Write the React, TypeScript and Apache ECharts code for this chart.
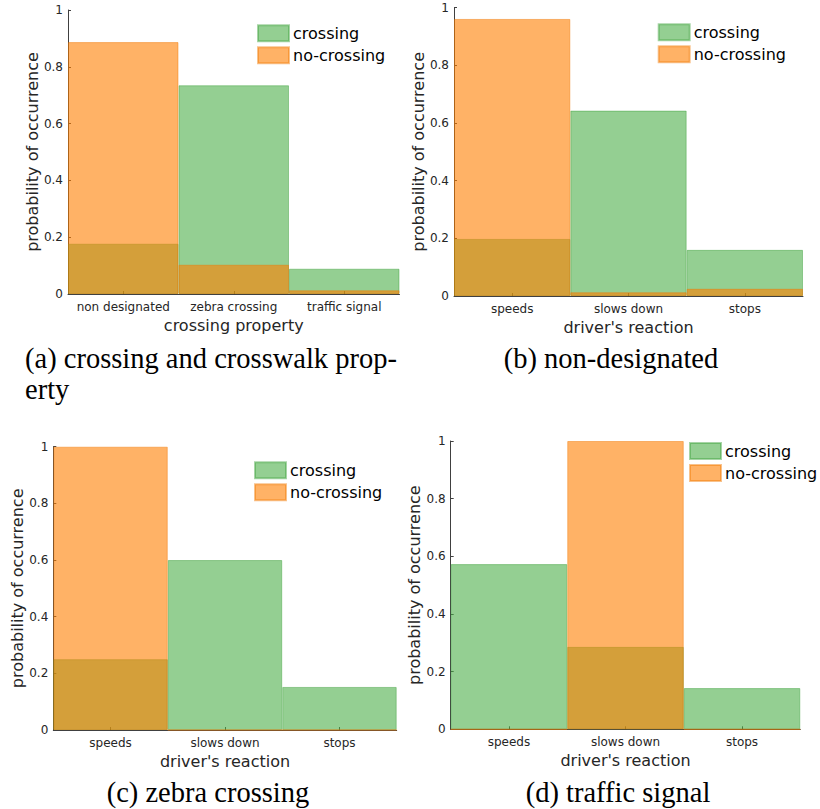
import React, { useEffect, useRef } from "react";
import * as echarts from "echarts";

const propertyCategories = ["non designated", "zebra crossing", "traffic signal"];
const reactionCategories = ["speeds", "slows down", "stops"];
const yTicks = [0, 0.2, 0.4, 0.6, 0.8, 1];

const crossingA = [0.177, 0.735, 0.089];
const noCrossingA = [0.887, 0.103, 0.013];
const crossingB = [0.198, 0.643, 0.16];
const noCrossingB = [0.961, 0.013, 0.025];
const crossingC = [0.25, 0.6, 0.152];
const noCrossingC = [1.0, 0, 0];
const crossingD = [0.573, 0.286, 0.143];
const noCrossingD = [0, 1.0, 0];

const seriesNames = ["crossing", "no-crossing"];
const xAxisNames = ["crossing property", "driver's reaction", "driver's reaction", "driver's reaction"];
const yAxisName = "probability of occurrence";
const captions = [
  "(a) crossing and crosswalk prop-",
  "erty",
  "(b) non-designated",
  "(c) zebra crossing",
  "(d) traffic signal",
];

const SANS = "DejaVu Sans";
const SERIF = "Liberation Serif";
const GREEN = "rgba(77,175,74,0.6)";
const GREEN_EDGE = "rgba(60,160,58,0.45)";
const ORANGE = "rgba(255,127,0,0.6)";
const ORANGE_EDGE = "rgba(240,120,0,0.45)";
const AXIS = "#404040";
const TEXT = "#262626";

export default function App() {
  const ref = useRef<HTMLDivElement>(null);
  useEffect(() => {
    if (!ref.current) return;
    const chart = echarts.init(ref.current, null, { renderer: "svg" });

    const grids = [
      { left: 68, top: 10, width: 331.5, height: 284 },
      { left: 454, top: 7.7, width: 349, height: 288.3 },
      { left: 53.3, top: 446.7, width: 343.4, height: 283.3 },
      { left: 450.7, top: 441, width: 349.6, height: 288.3 },
    ];
    const catsList = [propertyCategories, reactionCategories, reactionCategories, reactionCategories];
    const data = [
      [crossingA, noCrossingA],
      [crossingB, noCrossingB],
      [crossingC, noCrossingC],
      [crossingD, noCrossingD],
    ];
    const legendPos = [
      { left: 257, top: 24.3 },
      { left: 657.7, top: 23.3 },
      { left: 254, top: 461.3 },
      { left: 689, top: 442 },
    ];

    const xAxis = grids.map((_, i) => ({
      type: "category",
      gridIndex: i,
      data: catsList[i],
      boundaryGap: true,
      name: xAxisNames[i],
      nameLocation: "middle",
      nameGap: 23,
      nameTextStyle: { fontFamily: SANS, fontSize: 16, color: TEXT },
      axisLine: { show: true, lineStyle: { color: AXIS, width: 1 } },
      axisTick: { show: true, inside: true, alignWithLabel: true, length: 3, lineStyle: { color: AXIS } },
      axisLabel: { fontFamily: SANS, fontSize: 12, color: TEXT, margin: 7, interval: 0, hideOverlap: false },
      splitLine: { show: false },
    }));

    const yAxis = grids.map((_, i) => ({
      type: "value",
      gridIndex: i,
      min: yTicks[0],
      max: yTicks[yTicks.length - 1],
      interval: 0.2,
      name: yAxisName,
      nameLocation: "middle",
      nameGap: 27,
      nameTextStyle: { fontFamily: SANS, fontSize: 16, color: TEXT },
      axisLine: { show: true, lineStyle: { color: AXIS, width: 1 } },
      axisTick: { show: true, inside: true, length: 3, lineStyle: { color: AXIS } },
      axisLabel: { fontFamily: SANS, fontSize: 12, color: TEXT, margin: 5 },
      splitLine: { show: false },
    }));

    const series: any[] = [];
    grids.forEach((_, i) => {
      series.push({
        type: "bar",
        name: seriesNames[0],
        xAxisIndex: i,
        yAxisIndex: i,
        data: data[i][0],
        barWidth: "100%",
        barGap: "-100%",
        barCategoryGap: "0%",
        itemStyle: { color: GREEN, borderColor: GREEN_EDGE, borderWidth: 1 },
      });
      series.push({
        type: "bar",
        name: seriesNames[1],
        xAxisIndex: i,
        yAxisIndex: i,
        data: data[i][1],
        barWidth: "100%",
        barGap: "-100%",
        barCategoryGap: "0%",
        itemStyle: { color: ORANGE, borderColor: ORANGE_EDGE, borderWidth: 1 },
      });
    });

    const legend = legendPos.map((p) => ({
      data: seriesNames,
      orient: "vertical",
      left: p.left,
      top: p.top,
      padding: 0,
      itemWidth: 31,
      itemHeight: 16,
      itemGap: 4,
      icon: "rect",
      selectedMode: false,
      textStyle: { fontFamily: SANS, fontSize: 16, color: "#000", lineHeight: 16, padding: [0, 0, 0, -1] },
    }));

    const capStyle = { fontFamily: SERIF, fontSize: 28.5, fill: "#000" };
    const graphic = [
      { type: "text", left: 25, top: 344, style: { ...capStyle, text: captions[0] } },
      { type: "text", left: 25, top: 375, style: { ...capStyle, text: captions[1] } },
      { type: "text", x: 611, y: 358, style: { ...capStyle, text: captions[2], align: "center", verticalAlign: "middle" } },
      { type: "text", x: 208, y: 792, style: { ...capStyle, text: captions[3], align: "center", verticalAlign: "middle" } },
      { type: "text", x: 618, y: 792, style: { ...capStyle, text: captions[4], align: "center", verticalAlign: "middle" } },
    ];

    chart.setOption({
      animation: false,
      backgroundColor: "#fff",
      grid: grids.map((g) => ({ ...g, containLabel: false })),
      xAxis,
      yAxis,
      series,
      legend,
      graphic,
    } as any);

    return () => chart.dispose();
  }, []);

  return (
    <div
      ref={ref}
      style={{ position: "absolute", left: 0, top: 0, width: 820, height: 809 }}
    />
  );
}
